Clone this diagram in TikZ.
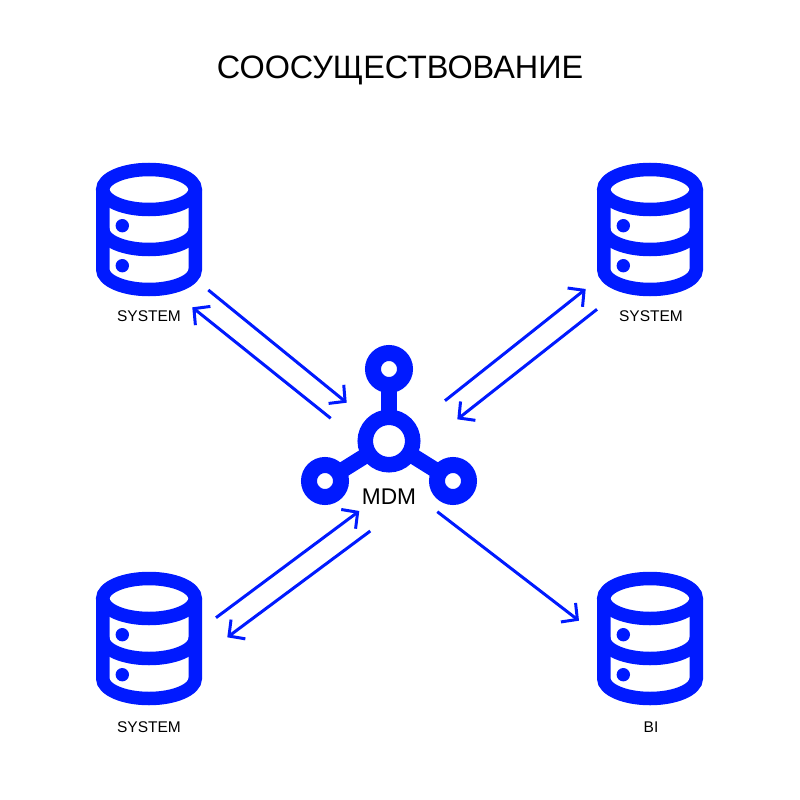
\documentclass[tikz,border=0pt]{standalone}
\usepackage{fontspec}
\setmainfont{Liberation Sans}
\usetikzlibrary{arrows.meta}
\definecolor{mdmblue}{RGB}{0,26,255}

\begin{document}
\begin{tikzpicture}[x=1pt,y=-1pt,
    dbnode/.style={inner sep=0pt,minimum width=106pt,minimum height=134pt},
    ringnode/.style={draw=mdmblue,line width=16pt,circle,inner sep=0pt,outer sep=0pt,minimum size=32pt},
    hubnode/.style={draw=mdmblue,line width=15.5pt,circle,inner sep=0pt,outer sep=0pt,minimum size=47.5pt},
    spoke/.style={draw=mdmblue,line width=15.7pt},
    flow/.style={draw=mdmblue,line width=3pt,-{Straight Barb[length=11.5pt,width=24pt,line width=3pt]}},
    smalllabel/.style={inner sep=0pt,font=\fontsize{15.5}{17}\selectfont},
    dbicon/.pic={
        \draw[mdmblue,line width=13.5pt] (0,-40) ellipse [x radius=46.25pt,y radius=20pt];
        \draw[mdmblue,line width=13.5pt] (-46.25,-40) -- (-46.25,40) arc [start angle=180,end angle=360,x radius=46.25pt,y radius=20pt] -- (46.25,-40);
        \draw[mdmblue,line width=13.5pt] (-46.25,0) arc [start angle=180,end angle=360,x radius=46.25pt,y radius=20pt];
        \fill[mdmblue] (-26.7,-3.8) circle [radius=6.7pt];
        \fill[mdmblue] (-26.7,36.2) circle [radius=6.7pt];
    }]
    \useasboundingbox (0,0) rectangle (800,800);

    \node[inner sep=0pt,anchor=base,font=\fontsize{32.4}{36}\selectfont] (title) at (400,78.5) {СООСУЩЕСТВОВАНИЕ};

    \node[dbnode] (db1) at (149,229.5) {};
    \node[dbnode] (db2) at (650,229.5) {};
    \node[dbnode] (db3) at (149,638.5) {};
    \node[dbnode] (db4) at (650,638.5) {};
    \pic at (db1) {dbicon};
    \pic at (db2) {dbicon};
    \pic at (db3) {dbicon};
    \pic at (db4) {dbicon};

    \node[smalllabel] (label1) at (149,316.5) {SYSTEM};
    \node[smalllabel] (label2) at (651,316.5) {SYSTEM};
    \node[smalllabel] (label3) at (149,727.5) {SYSTEM};
    \node[smalllabel] (label4) at (651,727.5) {BI};

    \node[hubnode] (hub) at (389,441) {};
    \node[ringnode] (ring1) at (389,369) {};
    \node[ringnode] (ring2) at (325,481) {};
    \node[ringnode] (ring3) at (453,481) {};
    \draw[spoke] (hub) -- (ring1);
    \draw[spoke] (hub) -- (ring2);
    \draw[spoke] (hub) -- (ring3);
    \node[inner sep=0pt,font=\fontsize{22.7}{25}\selectfont] (mdm) at (389,497) {MDM};

    \coordinate (a1) at (208.3,290);
    \coordinate (a2) at (346.7,402.7);
    \coordinate (b1) at (330.7,418.3);
    \coordinate (b2) at (192.3,307.3);
    \coordinate (c1) at (216,617.7);
    \coordinate (c2) at (359.3,511);
    \coordinate (d1) at (370.3,531);
    \coordinate (d2) at (227.3,637.3);
    \coordinate (e1) at (445,400.7);
    \coordinate (e2) at (585.7,289);
    \coordinate (f1) at (597,309.3);
    \coordinate (f2) at (457.3,419.3);
    \coordinate (g1) at (437.3,511.7);
    \coordinate (g2) at (579,620.7);

    \draw[flow] (a1) -- (a2);
    \draw[flow] (b1) -- (b2);
    \draw[flow] (c1) -- (c2);
    \draw[flow] (d1) -- (d2);
    \draw[flow] (e1) -- (e2);
    \draw[flow] (f1) -- (f2);
    \draw[flow] (g1) -- (g2);
\end{tikzpicture}
\end{document}
